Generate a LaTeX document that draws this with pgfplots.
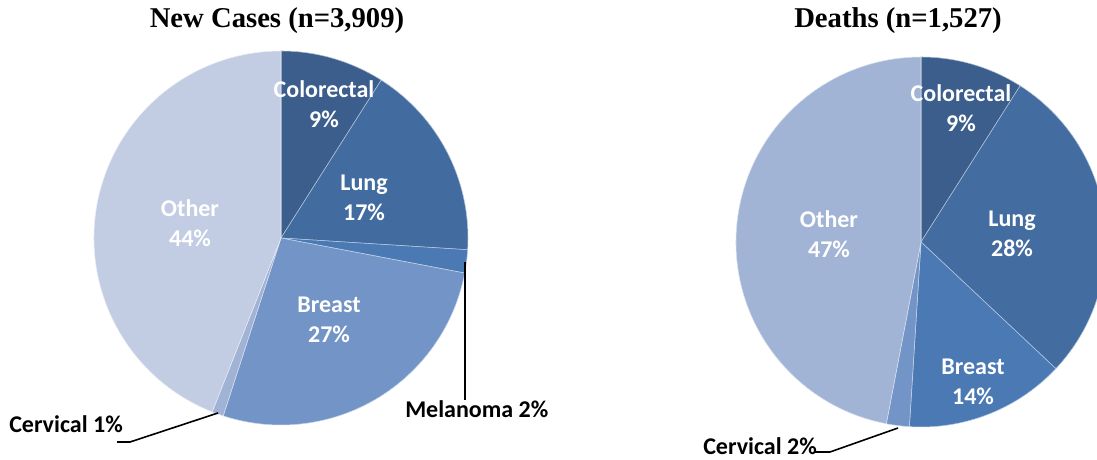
\documentclass[border=0pt]{standalone}
\usepackage{pgfplots}
\pgfplotsset{compat=1.18}
\usepackage{pgfplotstable}
\usepackage{fontspec}
\setmainfont{Carlito}
\newfontfamily\titlefont{Liberation Serif}

\definecolor{cA}{HTML}{3B5E8C}
\definecolor{cB}{HTML}{426CA0}
\definecolor{cC}{HTML}{4A79B3}
\definecolor{cD}{HTML}{7394C6}
\definecolor{cE}{HTML}{A0B3D5}
\definecolor{cF}{HTML}{C2CDE3}
\definecolor{dA}{HTML}{3B5E8C}
\definecolor{dB}{HTML}{436CA0}
\definecolor{dC}{HTML}{4A79B4}
\definecolor{dD}{HTML}{7394C6}
\definecolor{dE}{HTML}{A2B4D5}

\pgfplotstableread{
name value color
Colorectal 9 cA
Lung 17 cB
Melanoma 2 cC
Breast 27 cD
Cervical 1 cE
Other 44 cF
}\newcases

\pgfplotstableread{
name value color
Colorectal 9 dA
Lung 28 dB
Breast 14 dC
Cervical 2 dD
Other 47 dE
}\deaths

\def\pxunit{0.75pt}

% #1 table, #2 cx, #3 cy, #4 radius (px)
\newcommand\drawpie[4]{%
  \pgfplotstablegetrowsof{#1}%
  \pgfmathtruncatemacro\lastrow{\pgfplotsretval-1}%
  \gdef\cumsum{0}%
  \foreach \i in {0,...,\lastrow}{%
    \pgfplotstablegetelem{\i}{value}\of{#1}\let\sliceval\pgfplotsretval
    \pgfplotstablegetelem{\i}{color}\of{#1}\let\slicecol\pgfplotsretval
    \pgfmathsetmacro\angA{90-3.6*\cumsum}%
    \pgfmathsetmacro\angB{90-3.6*(\cumsum+\sliceval)}%
    \filldraw[fill=\slicecol, draw=white!60!\slicecol, line width=0.4pt]
      (axis cs:#2,#3) -- ++(\angA:#4*\pxunit)
      arc[start angle=\angA, end angle=\angB, radius=#4*\pxunit] -- cycle;
    \pgfmathsetmacro\nc{\cumsum+\sliceval}\global\let\cumsum\nc
  }}

\begin{document}
\begin{tikzpicture}
\begin{axis}[name=ax, hide axis, scale only axis,
  x=\pxunit, y=\pxunit, xmin=0, xmax=1097, ymin=0, ymax=460, clip=true]
\pgfplotsextra{\drawpie{\newcases}{281}{222}{187}}
\pgfplotsextra{\drawpie{\deaths}{921}{218}{185}}

% titles
\node[font=\titlefont\bfseries\fontsize{21.5}{25}\selectfont] at (axis cs:277,439) {New Cases (n=3,909)};
\node[font=\titlefont\bfseries\fontsize{21.5}{25}\selectfont] at (axis cs:898,439) {Deaths (n=1,527)};

% in-slice labels
\tikzset{lbl/.style={font=\bfseries\fontsize{18}{22.5}\selectfont, text=white, align=center}}
\node[lbl] at (axis cs:324,356) {Colorectal\\9\%};
\node[lbl] at (axis cs:364,262.5) {Lung\\17\%};
\node[lbl] at (axis cs:190,237) {Other\\44\%};
\node[lbl] at (axis cs:329,140.5) {Breast\\27\%};

\node[lbl] at (axis cs:961,352) {Colorectal\\9\%};
\node[lbl] at (axis cs:1012,226) {Lung\\28\%};
\node[lbl] at (axis cs:829,225.5) {Other\\47\%};
\node[lbl] at (axis cs:973,78.5) {Breast\\14\%};

% outside labels with leader lines
\tikzset{olbl/.style={font=\bfseries\fontsize{18}{22.5}\selectfont, text=black, anchor=west, inner sep=0pt}}
\draw[black, line width=1.4pt] (axis cs:465,198) -- (axis cs:465,60);
\node[olbl] at (axis cs:405,51) {Melanoma 2\%};
\draw[black, line width=1.2pt] (axis cs:218,47) -- (axis cs:130,18) -- (axis cs:117,18);
\node[olbl] at (axis cs:9,36) {Cervical 1\%};
\draw[black, line width=1.2pt] (axis cs:898,32) -- (axis cs:830,8) -- (axis cs:815,8);
\node[olbl] at (axis cs:703,14) {Cervical 2\%};
\end{axis}
\pgfresetboundingbox
\useasboundingbox (ax.south west) rectangle (ax.north east);
\end{tikzpicture}
\end{document}
